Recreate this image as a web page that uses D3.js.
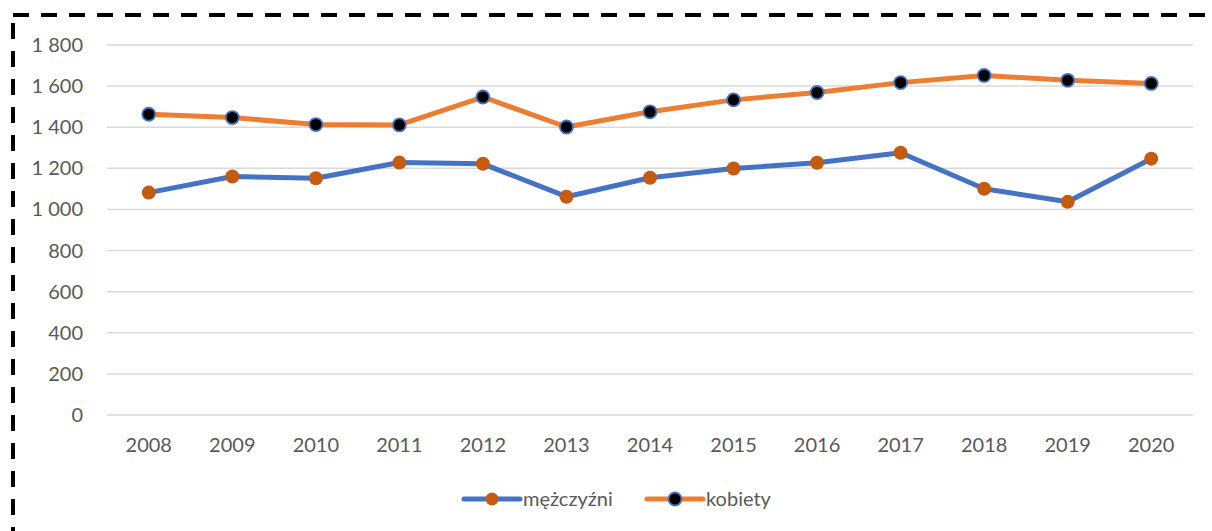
<!DOCTYPE html>
<html>
<head>
<meta charset="utf-8">
<script src="https://cdn.jsdelivr.net/npm/d3@7"></script>
<style>
  body { margin: 0; background: #fff; }
  svg text { font-family: Lato, "Open Sans", sans-serif; fill: #595959; }
</style>
</head>
<body>
<div id="chart"></div>
<script>
const years = ["2008","2009","2010","2011","2012","2013","2014","2015","2016","2017","2018","2019","2020"];
const men = [1082, 1160, 1152, 1228, 1222, 1062, 1154, 1199, 1227, 1276, 1101, 1037, 1247];
const women = [1463, 1447, 1413, 1411, 1547, 1401, 1475, 1533, 1569, 1617, 1652, 1628, 1613];
const yTicks = [0, 200, 400, 600, 800, 1000, 1200, 1400, 1600, 1800];
const seriesNames = ["mężczyźni", "kobiety"];

(function() {
    const width = 1212,
          height = 531;
    const margin = {left: 107, right: 19, top: 45, bottom: 117};

    const svg = d3.select("#chart")
        .append("svg")
        .attr("width", width)
        .attr("height", height);

    // dashed frame, right and bottom edges run off the page
    svg.append("rect")
        .attr("x", 13).attr("y", 15)
        .attr("width", 1230).attr("height", 560)
        .attr("fill", "none")
        .attr("stroke", "#000")
        .attr("stroke-width", 4)
        .attr("stroke-dasharray", "16 12");

    const x = d3.scaleBand()
        .domain(years)
        .range([margin.left, width - margin.right]);

    const y = d3.scaleLinear()
        .domain([0, 1800])
        .range([height - margin.bottom + 1, margin.top]);

    const cx = d => x(d) + x.bandwidth() / 2;

    // gridlines
    svg.append("g")
        .selectAll("line")
        .data(yTicks)
        .enter().append("line")
        .attr("x1", margin.left)
        .attr("x2", width - margin.right)
        .attr("y1", d => y(d))
        .attr("y2", d => y(d))
        .attr("stroke", "#d9d9d9")
        .attr("stroke-width", 1.5);

    const fmt = d => d3.format(",")(d).replace(/,/g, " ");

    svg.append("g")
        .selectAll("text")
        .data(yTicks)
        .enter().append("text")
        .attr("x", 83)
        .attr("y", d => y(d))
        .attr("dy", "0.35em")
        .attr("text-anchor", "end")
        .attr("font-size", 20)
        .text(fmt);

    svg.append("g")
        .selectAll("text")
        .data(years)
        .enter().append("text")
        .attr("x", cx)
        .attr("y", 452)
        .attr("text-anchor", "middle")
        .attr("font-size", 20)
        .text(d => d);

    const line = d3.line()
        .x((d, i) => cx(years[i]))
        .y(d => y(d));

    // men
    svg.append("path")
        .datum(men)
        .attr("d", line)
        .attr("fill", "none")
        .attr("stroke", "#4472c4")
        .attr("stroke-width", 5)
        .attr("stroke-linejoin", "round");

    svg.append("g")
        .selectAll("circle")
        .data(men)
        .enter().append("circle")
        .attr("cx", (d, i) => cx(years[i]))
        .attr("cy", d => y(d))
        .attr("r", 7)
        .attr("fill", "#c55a11");

    // women
    svg.append("path")
        .datum(women)
        .attr("d", line)
        .attr("fill", "none")
        .attr("stroke", "#ed7d31")
        .attr("stroke-width", 5)
        .attr("stroke-linejoin", "round");

    svg.append("g")
        .selectAll("circle")
        .data(women)
        .enter().append("circle")
        .attr("cx", (d, i) => cx(years[i]))
        .attr("cy", d => y(d))
        .attr("r", 6.5)
        .attr("fill", "#000")
        .attr("stroke", "#4472c4")
        .attr("stroke-width", 1.8);

    // legend
    const legend = [
        {name: seriesNames[0], x: 464, line: "#4472c4", fill: "#c55a11", stroke: "none"},
        {name: seriesNames[1], x: 647, line: "#ed7d31", fill: "#000", stroke: "#4472c4"}
    ];
    const lg = svg.append("g")
        .selectAll("g")
        .data(legend)
        .enter().append("g")
        .attr("transform", d => `translate(${d.x},499)`);

    lg.append("line")
        .attr("x1", 0).attr("x2", 56)
        .attr("stroke", d => d.line)
        .attr("stroke-width", 5)
        .attr("stroke-linecap", "round");

    lg.append("circle")
        .attr("cx", 28)
        .attr("r", 6.5)
        .attr("fill", d => d.fill)
        .attr("stroke", d => d.stroke)
        .attr("stroke-width", 1.8);

    lg.append("text")
        .attr("x", 59)
        .attr("dy", "0.35em")
        .attr("font-size", 20)
        .text(d => d.name);
})();
</script>
</body>
</html>
